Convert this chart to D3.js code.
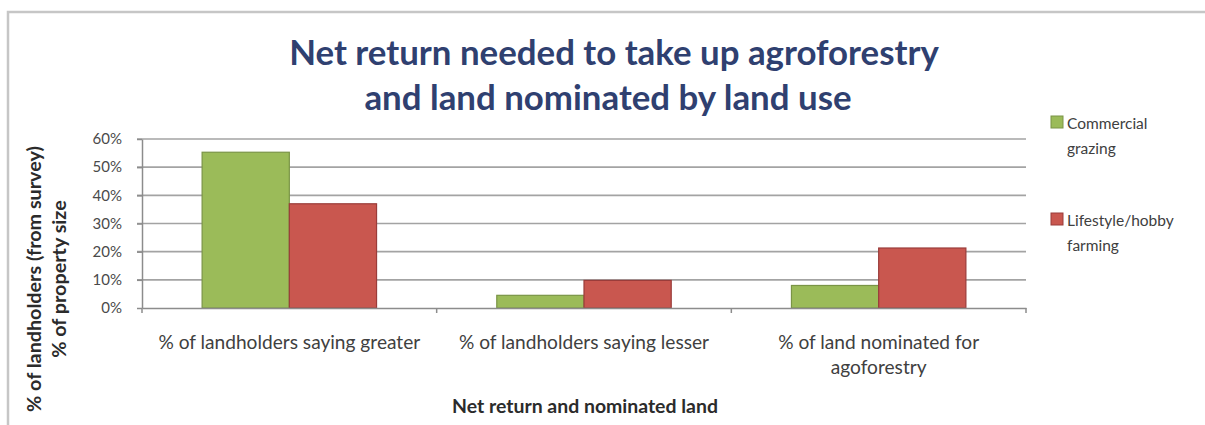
<!DOCTYPE html>
<html>
<head>
<meta charset="utf-8">
<script src="https://cdn.jsdelivr.net/npm/d3@7"></script>
<style>
  html, body { margin: 0; padding: 0; background: #ffffff; }
  svg { display: block; }
  text { font-family: Lato, "Open Sans", sans-serif; }
</style>
</head>
<body>
<svg id="chart" width="1205" height="425"></svg>
<script>
// ---- data ----
const categories = [
  "% of landholders saying greater",
  "% of landholders saying lesser",
  "% of land nominated for agoforestry"
];
const seriesNames = ["Commercial grazing", "Lifestyle/hobby farming"];
const commercialGrazing = [0.553, 0.045, 0.08];
const lifestyleFarming = [0.37, 0.098, 0.213];
const yTickValues = [0, 0.1, 0.2, 0.3, 0.4, 0.5, 0.6];
const titleLines = ["Net return needed to take up agroforestry", "and land nominated by land use"];
const xAxisTitle = "Net return and nominated land";
const yAxisTitleLines = ["% of landholders (from survey)", "% of property size"];
const legendLabels = [["Commercial", "grazing"], ["Lifestyle/hobby", "farming"]];

const seriesColors = ["#9BBB59", "#C9574F"];
const seriesStroke = ["#7A9446", "#9A3C3A"];

const svg = d3.select("#chart");

// fit a text element's font-size so its rendered width matches a target width
function fitSize(sel, base, target) {
  sel.attr("font-size", base);
  const w = sel.node().getComputedTextLength();
  const s = base * target / w;
  sel.attr("font-size", s);
  return s;
}

// outer chart frame
svg.append("rect")
  .attr("x", 8).attr("y", 12)
  .attr("width", 1210).attr("height", 430)
  .attr("fill", "none").attr("stroke", "#c6c6c6").attr("stroke-width", 2.5);

// ---- plot area ----
const plot = { left: 142, right: 1026, top: 139, bottom: 308 };

const x0 = d3.scaleBand().domain(categories).range([plot.left, plot.right]).paddingInner(0).paddingOuter(0);
const groupFrac = 0.592;
const x1 = d3.scaleBand().domain(seriesNames)
  .range([0, x0.bandwidth() * groupFrac]).padding(0);
const y = d3.scaleLinear().domain([0, 0.6]).range([plot.bottom, plot.top]);

// gridlines (running through the y tick marks)
svg.append("g")
  .selectAll("line")
  .data(yTickValues.filter(v => v > 0))
  .join("line")
  .attr("x1", plot.left - 5).attr("x2", plot.right)
  .attr("y1", d => y(d)).attr("y2", d => y(d))
  .attr("stroke", "#a3a3a3").attr("stroke-width", 1.6);

// bars
const rows = categories.map((c, i) => ({
  cat: c,
  vals: [commercialGrazing[i], lifestyleFarming[i]]
}));
const offset = (x0.bandwidth() - x0.bandwidth() * groupFrac) / 2;
svg.append("g")
  .selectAll("g")
  .data(rows)
  .join("g")
  .attr("transform", d => `translate(${x0(d.cat) + offset},0)`)
  .selectAll("rect")
  .data(d => d.vals.map((v, j) => ({ key: seriesNames[j], v, j })))
  .join("rect")
  .attr("x", d => x1(d.key))
  .attr("y", d => y(d.v))
  .attr("width", x1.bandwidth())
  .attr("height", d => y(0) - y(d.v))
  .attr("fill", d => seriesColors[d.j])
  .attr("stroke", d => seriesStroke[d.j])
  .attr("stroke-width", 1.2);

// y axis
const yAxis = d3.axisLeft(y)
  .tickValues(yTickValues)
  .tickFormat(d3.format(".0%"))
  .tickSizeInner(5).tickSizeOuter(0).tickPadding(15);
const gy = svg.append("g").attr("transform", `translate(${plot.left},0)`).call(yAxis);
gy.select(".domain").attr("stroke", "#8c8c8c").attr("stroke-width", 1.5);
gy.selectAll(".tick line").attr("stroke", "#8c8c8c").attr("stroke-width", 1.5);
gy.selectAll(".tick text")
  .attr("font-family", "Lato, sans-serif")
  .attr("font-size", 15).attr("fill", "#4a4a4a");

// x axis: baseline + category boundary ticks
const xAxis = d3.axisBottom(x0).tickSize(0).tickFormat("");
const gx = svg.append("g").attr("transform", `translate(0,${plot.bottom})`).call(xAxis);
gx.select(".domain").attr("stroke", "#8c8c8c").attr("stroke-width", 1.5);
const boundaries = categories.map(c => x0(c)).concat([plot.right]);
gx.selectAll("line.bound")
  .data(boundaries)
  .join("line")
  .attr("class", "bound")
  .attr("x1", d => d).attr("x2", d => d)
  .attr("y1", 0).attr("y2", 5)
  .attr("stroke", "#8c8c8c").attr("stroke-width", 1.5);

// category labels with wrapping
const probe = svg.append("text").text(categories[0]).attr("font-weight", 400);
const catSize = fitSize(probe, 13, 262);
probe.remove();
const maxW = x0.bandwidth() - 30;
categories.forEach(c => {
  const cx = x0(c) + x0.bandwidth() / 2;
  const t = svg.append("text")
    .attr("x", cx).attr("y", 349)
    .attr("text-anchor", "middle")
    .attr("font-size", catSize)
    .attr("fill", "#404040");
  const words = c.split(" ");
  let line = [];
  let tspan = t.append("tspan").attr("x", cx).attr("dy", 0);
  words.forEach(w => {
    line.push(w);
    tspan.text(line.join(" "));
    if (tspan.node().getComputedTextLength() > maxW && line.length > 1) {
      line.pop();
      tspan.text(line.join(" "));
      line = [w];
      tspan = t.append("tspan").attr("x", cx).attr("dy", 25).text(w);
    }
  });
});

// x axis title
const xt = svg.append("text")
  .attr("x", 585).attr("y", 413)
  .attr("text-anchor", "middle")
  .attr("font-weight", 700).attr("fill", "#2b2b2b")
  .text(xAxisTitle);
fitSize(xt, 13, 266);

// y axis title (rotated, two lines)
const ytG = svg.append("g").attr("transform", "translate(41,279) rotate(-90)");
const yt1 = ytG.append("text").attr("x", 0).attr("y", 0)
  .attr("text-anchor", "middle").attr("font-weight", 700).attr("fill", "#2b2b2b")
  .text(yAxisTitleLines[0]);
const ySize = fitSize(yt1, 13, 266);
ytG.append("text").attr("x", 0).attr("y", 25)
  .attr("text-anchor", "middle").attr("font-weight", 700).attr("fill", "#2b2b2b")
  .attr("font-size", ySize)
  .text(yAxisTitleLines[1]);

// chart title
const t1 = svg.append("text")
  .attr("x", 614).attr("y", 65)
  .attr("text-anchor", "middle")
  .attr("font-weight", 700).attr("fill", "#2F4070")
  .text(titleLines[0]);
const tSize = fitSize(t1, 28, 650);
svg.append("text")
  .attr("x", 608).attr("y", 110)
  .attr("text-anchor", "middle")
  .attr("font-weight", 700).attr("fill", "#2F4070")
  .attr("font-size", tSize)
  .text(titleLines[1]);

// legend
const legendY = [116, 213];
legendLabels.forEach((lines, i) => {
  const g = svg.append("g").attr("transform", `translate(1051,${legendY[i]})`);
  g.append("rect")
    .attr("x", 0).attr("y", 0).attr("width", 12).attr("height", 12)
    .attr("fill", seriesColors[i]).attr("stroke", seriesStroke[i]).attr("stroke-width", 1);
  lines.forEach((l, k) => {
    g.append("text")
      .attr("x", 16).attr("y", 13 + k * 25)
      .attr("font-size", 15.5).attr("fill", "#404040")
      .text(l);
  });
});
</script>
</body>
</html>
